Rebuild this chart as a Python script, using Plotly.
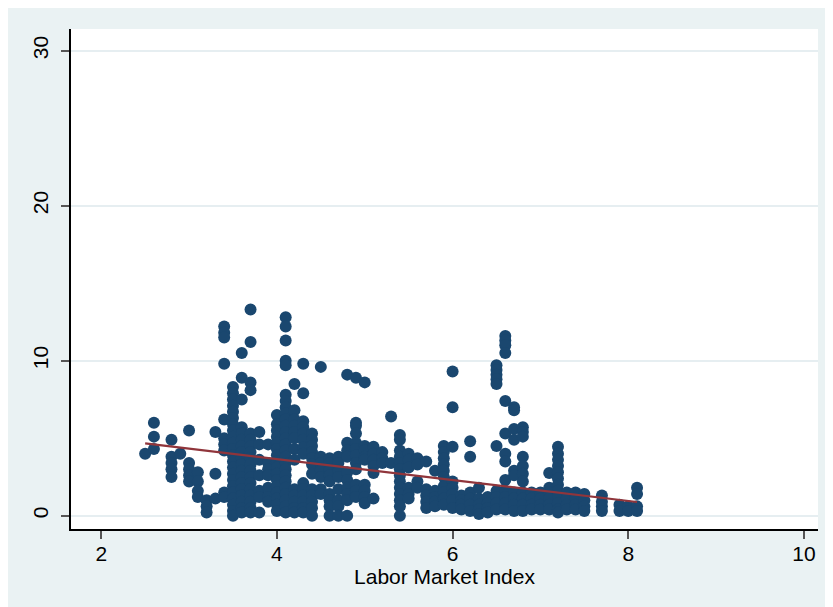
import plotly.graph_objects as go

# Labor Market Index columns (x) and the outcome values observed at each
col_x = [2.5, 2.6, 2.8, 2.9, 3.0, 3.1, 3.2, 3.3, 3.4, 3.5, 3.6, 3.7, 3.8, 3.9,
         4.0, 4.1, 4.2, 4.3, 4.4, 4.5, 4.6, 4.7, 4.8, 4.9, 5.0, 5.1, 5.2, 5.3,
         5.4, 5.5, 5.6, 5.7, 5.8, 5.9, 6.0, 6.1, 6.2, 6.3, 6.4, 6.5, 6.6, 6.7,
         6.8, 6.9, 7.0, 7.1, 7.2, 7.3, 7.4, 7.5, 7.7, 7.9, 8.0, 8.1]
col_y = [
    [4.0],
    [6.0, 5.1, 4.3],
    [4.9, 3.8, 3.4, 3.0, 2.5],
    [4.0],
    [5.5, 3.4, 3.0, 2.6, 2.2],
    [2.8, 2.2, 1.6, 1.2],
    [1.0, 0.6, 0.2],
    [5.4, 2.7, 1.1],
    [12.2, 11.8, 11.5, 9.8, 6.2, 5.0, 4.6, 4.2, 1.5, 1.2],
    [8.3, 7.9, 7.5, 7.1, 6.7, 6.3, 5.9, 5.5, 5.1, 4.7, 4.3, 3.9, 3.5, 3.1,
     2.7, 2.3, 1.9, 1.5, 1.1, 0.7, 0.3, 0.0],
    [10.5, 8.9, 7.5, 5.7, 5.3, 4.9, 4.5, 4.1, 3.7, 3.3, 2.9, 2.5, 2.1, 1.7,
     1.3, 0.9, 0.5, 0.2],
    [13.3, 11.2, 8.6, 8.1, 5.3, 4.9, 4.5, 4.1, 3.7, 3.3, 2.9, 2.5, 2.1, 1.7,
     1.3, 0.9, 0.5, 0.2],
    [5.4, 4.6, 3.6, 2.6, 1.6, 1.2, 0.2],
    [4.6, 3.4, 3.0, 2.6, 1.8, 1.2, 0.9],
    [6.5, 5.9, 5.5, 5.1, 4.7, 4.3, 3.9, 3.5, 3.1, 2.7, 2.3, 1.9, 1.5, 1.1,
     0.7, 0.3],
    [12.8, 12.2, 11.3, 10.0, 9.7, 7.8, 7.4, 7.0, 6.6, 6.2, 5.8, 5.4, 5.0, 4.6,
     4.2, 3.8, 3.4, 3.0, 2.6, 2.2, 1.8, 1.4, 1.0, 0.6, 0.2],
    [8.5, 6.8, 6.2, 5.8, 5.4, 5.0, 4.3, 3.6, 1.7, 1.3, 0.9, 0.5, 0.2],
    [9.8, 7.9, 6.1, 5.7, 5.3, 4.9, 4.4, 4.0, 2.1, 1.7, 1.3, 0.9, 0.5, 0.2],
    [5.3, 4.9, 4.5, 4.1, 3.7, 3.3, 2.7, 1.7, 1.3, 0.9, 0.5, 0.0],
    [9.6, 3.8, 3.4, 2.9, 2.5, 1.7, 1.4],
    [3.7, 3.4, 3.0, 2.6, 2.2, 1.4, 1.0, 0.6, 0.0],
    [3.8, 3.4, 2.9, 2.5, 1.7, 1.0, 0.6, 0.0],
    [9.1, 4.7, 4.2, 3.8, 2.8, 2.3, 1.8, 1.4, 1.0, 0.0],
    [8.9, 6.0, 5.8, 5.3, 4.7, 4.3, 3.9, 3.4, 3.0, 2.0, 1.6, 1.2],
    [8.6, 4.5, 4.2, 3.8, 3.6, 2.0, 1.6, 1.2, 0.8],
    [4.45, 4.0, 3.6, 3.2, 2.75, 1.1],
    [4.1, 3.7, 3.4],
    [6.4, 3.4],
    [5.2, 4.9, 4.2, 3.8, 3.4, 3.0, 2.6, 2.2, 1.8, 1.4, 1.0, 0.6, 0.0],
    [4.0, 3.6, 3.1, 1.8, 1.4, 1.1],
    [3.7, 3.3, 2.2, 1.8],
    [3.5, 1.7, 1.3, 0.9, 0.5],
    [2.9, 1.6, 1.2, 0.9, 0.6],
    [4.5, 4.1, 3.7, 3.3, 2.9, 2.5, 1.9, 1.5, 1.1, 0.7],
    [9.3, 7.0, 4.45, 2.2, 1.8, 1.4, 1.0, 0.5],
    [1.3, 1.0, 0.7, 0.4],
    [4.8, 3.8, 1.5, 1.1, 0.7, 0.3],
    [1.8, 1.1, 0.7, 0.4, 0.1],
    [1.2, 0.8, 0.5, 0.2],
    [9.7, 9.4, 9.1, 8.8, 8.5, 4.5, 1.6, 1.2, 0.8, 0.4],
    [11.6, 11.3, 11.0, 10.5, 7.4, 5.3, 4.0, 3.5, 2.3, 1.6, 1.2, 0.8, 0.4],
    [7.0, 6.8, 5.6, 4.9, 2.9, 2.6, 1.5, 1.1, 0.7, 0.3],
    [5.7, 5.4, 5.1, 3.8, 3.2, 2.7, 2.2, 1.5, 1.1, 0.7, 0.3],
    [1.5, 1.1, 0.7, 0.4],
    [1.5, 1.1, 0.7, 0.4],
    [2.75, 1.8, 1.5, 1.1, 0.7, 0.4],
    [4.45, 4.0, 3.6, 3.2, 2.8, 2.4, 2.0, 1.6, 1.2, 0.8, 0.4, 0.2],
    [1.5, 1.1, 0.7, 0.4],
    [1.5, 1.1, 0.7, 0.4],
    [1.4, 1.0, 0.6, 0.3],
    [1.3, 0.9, 0.6, 0.3],
    [0.7, 0.3],
    [0.6, 0.3],
    [1.8, 1.4, 0.6, 0.3],
]

# Linear fit
fit_x = [2.5, 8.1]
fit_y = [4.67, 0.88]

x_tick_vals = [2, 4, 6, 8, 10]
y_tick_vals = [0, 10, 20, 30]
x_title = "Labor Market Index"

pts_x, pts_y = [], []
for xv, ys in zip(col_x, col_y):
    for yv in ys:
        pts_x.append(xv)
        pts_y.append(yv)

NAVY = "#1A476F"
MAROON = "#90353B"
BG = "#EAF2F3"
FONT = "Liberation Sans, Arial, sans-serif"

fig = go.Figure()
fig.add_trace(go.Scatter(
    x=pts_x, y=pts_y, mode="markers",
    marker=dict(color=NAVY, size=12, line=dict(width=0)),
    showlegend=False, hoverinfo="x+y"))
fig.add_trace(go.Scatter(
    x=fit_x, y=fit_y, mode="lines",
    line=dict(color=MAROON, width=2.2),
    showlegend=False))

fig.update_layout(
    width=833, height=607,
    paper_bgcolor=BG, plot_bgcolor="white",
    margin=dict(l=62.5, r=23, t=21, b=86, pad=0),
    font=dict(family=FONT, size=21, color="black"),
    xaxis=dict(
        range=[1.656, 10.16], tickvals=x_tick_vals,
        showgrid=False, zeroline=False, automargin=False,
        showline=True, linecolor="black", linewidth=1.5,
        ticks="outside", ticklen=8, tickwidth=1.5, tickcolor="#555555",
        tickfont=dict(size=21), ticklabelstandoff=-3,
        title=dict(text=x_title, font=dict(size=21), standoff=2),
    ),
    yaxis=dict(
        range=[-0.86, 31.4], tickvals=y_tick_vals,
        showgrid=True, gridcolor="#E6EEF1", gridwidth=1.5,
        zeroline=False, automargin=False,
        showline=True, linecolor="black", linewidth=1.5,
        ticks="outside", ticklen=8, tickwidth=1.5, tickcolor="#555555",
        tickangle=-90, tickfont=dict(size=21),
        ticklabelstandoff=5,
    ),
)

fig.write_html("out.html")
